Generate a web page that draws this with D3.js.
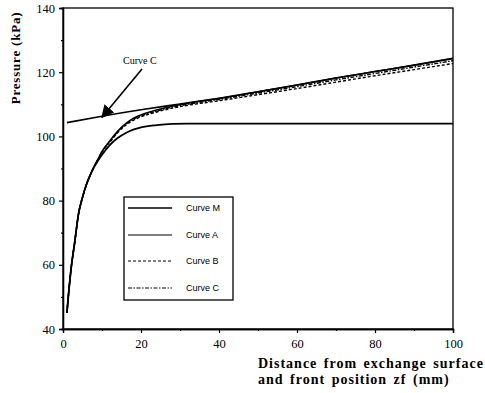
<!DOCTYPE html>
<html>
<head>
<meta charset="utf-8">
<script src="https://cdn.jsdelivr.net/npm/d3@7/dist/d3.min.js"></script>
<style>
  html, body { margin: 0; padding: 0; background: #fff; }
  svg { display: block; }
</style>
</head>
<body>
<svg id="chart" width="485" height="393"></svg>
<script>
// Distance from the exchange surface (mm) at which each curve is sampled
const distance = [1, 1.5, 2, 3, 4, 5, 6, 7, 8, 9, 10, 12, 14, 16, 18, 20, 24, 28, 32, 40, 50, 60, 70, 80, 90, 100];

// Pressure (kPa) along each curve
const curveM = [45, 52, 58, 67, 76, 81, 85, 88, 90.5, 92.5, 94.3, 97.3, 99.5, 101, 102.1, 102.8, 103.5, 103.9, 104, 104, 104, 104, 104, 104, 104, 104];
const curveA = [45, 52, 58, 67, 76, 81, 85, 88, 90.7, 93, 95.3, 98.6, 101.6, 103.9, 105.6, 106.7, 108.2, 109.4, 110.3, 111.8, 113.9, 116.0, 118.2, 120.2, 122.2, 124.3];
const curveB = [45, 52, 58, 67, 76, 81, 85, 88, 90.6, 92.8, 95.0, 98.2, 101.1, 103.4, 105.0, 106.1, 107.6, 108.8, 109.7, 111.1, 113.0, 114.9, 116.9, 118.9, 120.8, 122.7];
const curveC = [45, 52, 58, 67, 76, 81, 85, 88, 90.7, 92.9, 95.2, 98.4, 101.4, 103.7, 105.3, 106.4, 107.9, 109.1, 110.0, 111.5, 113.5, 115.5, 117.6, 119.6, 121.6, 123.6];

// Front position line of curve C
const frontDistance = [1, 10, 20, 30, 40, 50, 60, 70, 80, 90, 100];
const frontPressure = [104.3, 106.3, 108.3, 110.1, 111.9, 113.9, 116.0, 118.2, 120.2, 122.2, 124.3];

const xTicks = [0, 20, 40, 60, 80, 100];
const yTicks = [40, 60, 80, 100, 120, 140];
const legendLabels = ["Curve M", "Curve A", "Curve B", "Curve C"];

const svg = d3.select("#chart");
const x = d3.scaleLinear().domain([0, 100]).range([63, 453]);
const y = d3.scaleLinear().domain([40, 140]).range([329, 8]);

const serif = "'Liberation Serif', 'Times New Roman', serif";
const sans = "'Liberation Sans', Arial, sans-serif";

// Frame
svg.append("rect")
  .attr("x", x(0)).attr("y", y(140))
  .attr("width", x(100) - x(0)).attr("height", y(40) - y(140))
  .attr("fill", "none").attr("stroke", "#000").attr("stroke-width", 1.3);

// Axes
const xAxis = svg.append("g").attr("transform", `translate(0,${y(40)})`)
  .call(d3.axisBottom(x).tickValues(xTicks).tickSize(4).tickPadding(6).tickFormat(d3.format("d")));
const xMinor = svg.append("g").attr("transform", `translate(0,${y(40)})`)
  .call(d3.axisBottom(x).tickValues(d3.range(10, 100, 20)).tickSize(2).tickFormat(""));
const yAxis = svg.append("g").attr("transform", `translate(${x(0)},0)`)
  .call(d3.axisLeft(y).tickValues(yTicks).tickSize(4).tickPadding(4).tickFormat(d3.format("d")));
const yMinor = svg.append("g").attr("transform", `translate(${x(0)},0)`)
  .call(d3.axisLeft(y).tickValues(d3.range(50, 140, 20)).tickSize(2).tickFormat(""));

[xAxis, xMinor, yAxis, yMinor].forEach(g => {
  g.select(".domain").attr("stroke-width", 1.3);
  g.selectAll(".tick line").attr("stroke-width", 1.2);
  g.selectAll("text").attr("font-family", serif).attr("font-size", 12.5).attr("fill", "#000");
});

// Curves
const line = d3.line().x(d => x(d[0])).y(d => y(d[1])).curve(d3.curveMonotoneX);
const series = [
  { values: curveM, width: 1.8, dash: null },
  { values: curveA, width: 1.5, dash: null },
  { values: curveB, width: 1.4, dash: "3,2" },
  { values: curveC, width: 1.4, dash: "4,1.5,1.5,1.5" }
];
series.forEach(s => {
  svg.append("path")
    .datum(distance.map((d, i) => [d, s.values[i]]))
    .attr("d", line)
    .attr("fill", "none").attr("stroke", "#000")
    .attr("stroke-width", s.width)
    .attr("stroke-dasharray", s.dash);
});

svg.append("path")
  .datum(frontDistance.map((d, i) => [d, frontPressure[i]]))
  .attr("d", line)
  .attr("fill", "none").attr("stroke", "#000").attr("stroke-width", 1.6);

// Arrow annotation pointing at the front position line
svg.append("defs").append("marker")
  .attr("id", "head").attr("viewBox", "0 0 10 10")
  .attr("refX", 9).attr("refY", 5)
  .attr("markerWidth", 8).attr("markerHeight", 8)
  .attr("orient", "auto")
  .append("path").attr("d", "M0,0 L10,5 L0,10 z").attr("fill", "#000");

svg.append("line")
  .attr("x1", 142).attr("y1", 69)
  .attr("x2", x(10)).attr("y2", y(106.3) + 1)
  .attr("stroke", "#000").attr("stroke-width", 1.6)
  .attr("marker-end", "url(#head)");

svg.append("text")
  .attr("x", 123).attr("y", 64)
  .attr("font-family", serif).attr("font-size", 10)
  .text("Curve C");

// Legend
const legend = svg.append("g");
legend.append("rect")
  .attr("x", 124).attr("y", 197).attr("width", 109).attr("height", 103)
  .attr("fill", "#fff").attr("stroke", "#000").attr("stroke-width", 1.3);
const rowY = [208, 235, 261, 288];
series.forEach((s, i) => {
  legend.append("line")
    .attr("x1", 128).attr("x2", 172)
    .attr("y1", rowY[i]).attr("y2", rowY[i])
    .attr("stroke", "#000").attr("stroke-width", i === 0 ? 1.6 : 1.1)
    .attr("stroke-dasharray", s.dash);
  legend.append("text")
    .attr("x", 186).attr("y", rowY[i] + 3)
    .attr("font-family", sans).attr("font-size", 9)
    .text(legendLabels[i]);
});

// Axis titles
svg.append("text")
  .attr("transform", "translate(20,58) rotate(-90)")
  .attr("text-anchor", "middle")
  .attr("font-family", serif).attr("font-weight", "bold")
  .attr("font-size", 13).attr("letter-spacing", 0.8)
  .text("Pressure  (kPa)");

svg.append("text")
  .attr("x", 258).attr("y", 368)
  .attr("font-family", serif).attr("font-weight", "bold")
  .attr("font-size", 14).attr("letter-spacing", 1).attr("word-spacing", 2)
  .text("Distance from exchange surface");
svg.append("text")
  .attr("x", 258).attr("y", 384)
  .attr("font-family", serif).attr("font-weight", "bold")
  .attr("font-size", 14).attr("letter-spacing", 1).attr("word-spacing", 2)
  .text("and front position zf (mm)");
</script>
</body>
</html>
